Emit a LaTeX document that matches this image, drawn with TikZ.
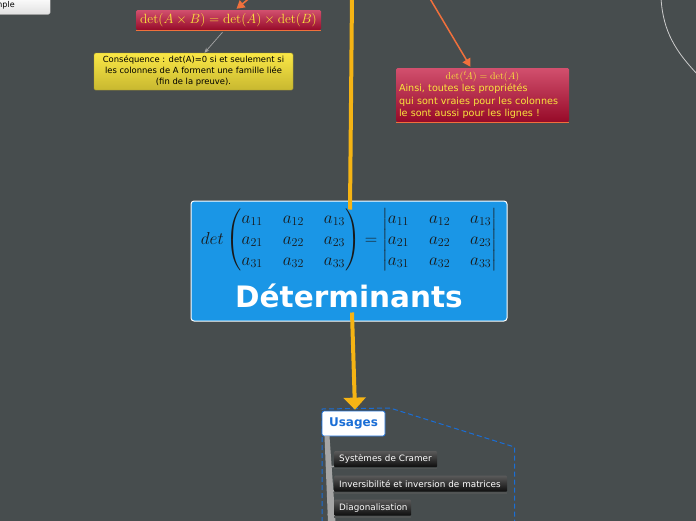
\RequirePackage{fix-cm}
\documentclass[tikz,border=0pt]{standalone}
\usepackage{amsmath}
\usepackage[no-math]{fontspec}
\setmainfont{DejaVu Sans}
\usetikzlibrary{arrows.meta}
\definecolor{bg}{RGB}{71,77,78}
\definecolor{redtop}{RGB}{210,80,110}
\definecolor{redbot}{RGB}{150,10,40}
\definecolor{ylw}{RGB}{250,230,60}
\definecolor{orng}{RGB}{240,112,60}
\definecolor{gold}{RGB}{246,180,20}
\definecolor{mainblue}{RGB}{26,150,230}
\definecolor{ublue}{RGB}{26,110,214}
\definecolor{barg}{RGB}{165,165,165}
\tikzset{
  redbox/.style={top color=redtop, bottom color=redbot, draw=none, rounded corners=1.5pt, text=ylw, inner sep=0pt},
  ylwbox/.style={top color=ylw!95!white, bottom color=ylw!80!black, draw=ylw!70!black, rounded corners=1.5pt, inner sep=0pt, align=center, font=\fontsize{8.4}{11}\selectfont, text=black},
  itembox/.style={top color=black!65, bottom color=black!95, draw=none, rounded corners=1pt, inner xsep=5pt, inner ysep=0pt, text=white, font=\fontsize{8.8}{10}\selectfont, anchor=north west, minimum height=16pt, align=left},
  orarrow/.style={draw=orng, line width=1.5pt, -{Triangle[length=8pt,width=9pt]}},
  underl/.style={draw=orng, line width=1.5pt},
  shadowl/.style={draw=black!45!bg!80!white, line width=1.5pt},
}
\begin{document}
\begin{tikzpicture}[x=1pt,y=-1pt]
\useasboundingbox (0,0) rectangle (696,520);
\clip (0,0) rectangle (696,520);
\fill[bg] (-5,-5) rectangle (701,525);

% top-left cut node
\node[anchor=south west, minimum width=74pt, minimum height=18pt, text width=66pt, inner xsep=4pt, align=left,
      top color=white, bottom color=black!12, draw=black!30, rounded corners=2pt, font=\fontsize{8}{9}\selectfont] (ex) at (-24,14.5) {Exemple};

% top-right curve
\coordinate (c1) at (661,-2);
\coordinate (c2) at (699,76);
\draw[black!20, line width=0.8pt] (c1) .. controls (663,32) and (676,52) .. (c2);

% red box 1
\node[redbox, minimum width=185pt, minimum height=20pt] (r1) at (228.5,20) {\fontsize{13.4}{15}\selectfont$\det(A\times B)=\det(A)\times\det(B)$};
\draw[underl] ([yshift=-0.5pt]r1.south west) -- ([yshift=-0.5pt]r1.south east);
\coordinate (o1) at (252,-4);
\draw[orarrow] (o1) -- ([xshift=8pt,yshift=1pt]r1.north);

% yellow box
\node[ylwbox, minimum width=199pt, minimum height=37pt] (yb) at (193.5,71.5) {Conséquence : det(A)=0 si et seulement si\\les colonnes de A forment une famille liée\\(fin de la preuve).};
\draw[black!35, line width=0.7pt, -{Stealth[length=5pt,width=4pt]}] ([xshift=-6pt,yshift=-2pt]r1.south) -- ([xshift=11pt]yb.north);

% red box 2
\node[redbox, minimum width=173pt, minimum height=54pt, text width=167pt, align=left, font=\fontsize{9.6}{12.3}\selectfont] (r2) at (482.5,95) {\makebox[167pt]{\fontsize{10}{12}\selectfont$\det({}^t\!A)=\det(A)$}\\Ainsi, toutes les propriétés\\qui sont vraies pour les colonnes\\le sont aussi pour les lignes !};
\draw[underl] ([yshift=-0.5pt]r2.south west) -- ([yshift=-0.5pt]r2.south east);
\coordinate (o2) at (429,-3);
\draw[orarrow] (o2) -- ([xshift=-12pt,yshift=1pt]r2.north);

% main node
\node[fill=mainblue, draw=white, line width=1pt, rounded corners=3pt, minimum width=316pt, minimum height=120pt, inner sep=0pt] (main) at (349,261) {};
\node[inner sep=0pt, text=black!90] (formula) at (349,240) {\fontsize{17.28}{21}\selectfont\setlength{\arraycolsep}{10pt}$det\begin{pmatrix}a_{11}&a_{12}&a_{13}\\a_{21}&a_{22}&a_{23}\\a_{31}&a_{32}&a_{33}\end{pmatrix}=\begin{vmatrix}a_{11}&a_{12}&a_{13}\\a_{21}&a_{22}&a_{23}\\a_{31}&a_{32}&a_{33}\end{vmatrix}$};
\node[inner sep=0pt, text=white, font=\bfseries\fontsize{29.5}{32}\selectfont] (title) at (349,296) {Déterminants};

\coordinate (ytop) at (352,-4);
\draw[gold, line width=4pt] (ytop) -- ([xshift=1pt,yshift=-9pt]main.north);

% dashed region
\coordinate (d1) at (322,530);
\coordinate (d2) at (322,409);
\coordinate (d3) at (390,408);
\coordinate (d4) at (514.5,447);
\coordinate (d5) at (514.5,530);
\draw[ublue, line width=1pt, dash pattern=on 5pt off 3pt] (d1) -- (d2) -- (d3) -- (d4) -- (d5);

% usages
\node[fill=white, draw=ublue, line width=0.8pt, rounded corners=2pt, minimum width=63pt, minimum height=25pt, inner sep=0pt, text=ublue, font=\bfseries\fontsize{12}{13}\selectfont] (us) at (353.5,423.5) {Usages};
\draw[gold, line width=4pt, -{Triangle[length=12pt,width=22pt]}] ([xshift=3pt,yshift=9pt]main.south) -- ([xshift=1.5pt,yshift=1pt]us.north);

% gray bar
\coordinate (b1) at (324.5,436);
\coordinate (b2) at (329.5,436);
\coordinate (b3) at (335.5,522);
\coordinate (b4) at (328,522);
\fill[barg] (b1) -- (b2) -- (b3) -- (b4) -- cycle;

% items
\node[itembox, text width=93pt] (i1) at (334,451) {Systèmes de Cramer};
\node[itembox, text width=163pt] (i2) at (334,475.5) {Inversibilité et inversion de matrices};
\node[itembox, text width=67pt] (i3) at (334,499.5) {Diagonalisation};
\foreach \n in {i1,i2,i3}{
  \draw[shadowl] ([yshift=-1pt]\n.south west) -- ([yshift=-1pt]\n.south east);
  \draw[barg, line width=1.5pt] ([xshift=-6pt,yshift=-6pt]\n.west) to[out=-80,in=180] ([yshift=1pt]\n.south west);
}
\end{tikzpicture}
\end{document}
